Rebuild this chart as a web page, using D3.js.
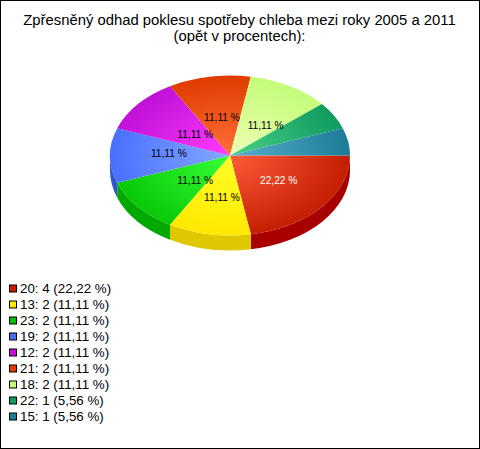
<!DOCTYPE html>
<html><head><meta charset="utf-8">
<script src="https://cdn.jsdelivr.net/npm/d3@7/dist/d3.min.js"></script>
<style>html,body{margin:0;padding:0;background:#fff}svg{display:block}</style>
</head><body><svg id="c" width="480" height="449"></svg>
<script>
const categories=["20","13","23","19","12","21","18","22","15"];
const counts=[4,2,2,2,2,2,2,1,1];
const percents=["22,22 %","11,11 %","11,11 %","11,11 %","11,11 %","11,11 %","11,11 %","5,56 %","5,56 %"];
const baseColors=["#c41e00","#ffe800","#08c808","#4a70ff","#c010d8","#e03c00","#c4fc78","#109c60","#1e7c98"];
const lightColors=["#ff5c3c","#ffff28","#38ff38","#84a8ff","#ff3cff","#ff7038","#ecffb4","#48d088","#58b0cc"];
const wallColors=["#a80000","#e0c800","#00a800","#3058c8","#9000a8","#b02800","#98c850","#087040","#105868"];
const legendColors=["#c41e00","#ffe800","#00c000","#4a70f0","#c010d8","#e03c00","#c4fc78","#109c60","#1e7c98"];
const labelColors=["#fff","#000","#000","#000","#000","#000","#000"];
const labelFracX=[0.406,-0.067,-0.29,-0.51,-0.29,-0.067,0.297];
const labelFracY=[0.31,0.53,0.31,-0.03,-0.26,-0.48,-0.37];
const titleLines=["Zpřesněný odhad poklesu spotřeby chleba mezi roky 2005 a 2011","(opět v procentech):"];
const cx=230,cy=155.5,rx=120,ry=80,depth=15;
const svg=d3.select("#c");
svg.append("rect").attr("x",0.5).attr("y",0.5).attr("width",479).attr("height",448).attr("fill","#fff").attr("stroke","#000");
const font="Arial, 'Liberation Sans', sans-serif";
titleLines.forEach((t,i)=>svg.append("text").attr("x",239.5).attr("y",24.5+i*16).attr("text-anchor","middle").attr("font-family",font).attr("font-size",14.83).attr("fill","#000").text(t));
const pie=d3.pie().sort(null).value(d=>d).startAngle(Math.PI/2).endAngle(Math.PI/2+2*Math.PI)(counts);
const arc=d3.arc().innerRadius(0).outerRadius(rx);
const defs=svg.append("defs");
pie.forEach((p,i)=>{
  const g=defs.append("radialGradient").attr("id","g"+i).attr("gradientUnits","userSpaceOnUse").attr("cx",0).attr("cy",0).attr("r",rx);
  g.append("stop").attr("offset",0).attr("stop-color",lightColors[i]);
  g.append("stop").attr("offset",1).attr("stop-color",baseColors[i]);
});
const px=a=>rx*Math.sin(a), py=a=>-ry*Math.cos(a);
const chart=svg.append("g").attr("transform",`translate(${cx},${cy})`);
pie.forEach((p,i)=>{
  const a0=Math.max(p.startAngle,Math.PI/2),a1=Math.min(p.endAngle,3*Math.PI/2);
  if(a1<=a0)return;
  const d=`M${px(a0)},${py(a0)}A${rx},${ry} 0 0 1 ${px(a1)},${py(a1)}L${px(a1)},${py(a1)+depth}A${rx},${ry} 0 0 0 ${px(a0)},${py(a0)+depth}Z`;
  chart.append("path").attr("d",d).attr("fill",wallColors[i]);
});
chart.append("g").attr("transform",`scale(1,${ry/rx})`).selectAll("path").data(pie).join("path")
  .attr("d",arc).attr("fill",(d,i)=>`url(#g${i})`);
labelFracX.forEach((f,i)=>{
  chart.append("text").attr("x",f*rx).attr("y",labelFracY[i]*ry)
    .attr("dy","0.35em").attr("text-anchor","middle").attr("font-family",font).attr("font-size",10.2).attr("fill",labelColors[i]).text(percents[i]);
});
const legendY=d3.scalePoint().domain(categories).range([288.5,416.5]);
const lg=svg.append("g").selectAll("g").data(categories).join("g").attr("transform",d=>`translate(0,${legendY(d)})`);
lg.append("rect").attr("x",9.5).attr("y",-3.5).attr("width",7).attr("height",7).attr("stroke","#000").attr("fill",(d,i)=>legendColors[i]);
lg.append("text").attr("x",20).attr("y",4.5).attr("font-family",font).attr("font-size",13.33).attr("fill","#000")
  .text((d,i)=>`${d}: ${counts[i]} (${percents[i]})`);
</script></body></html>
